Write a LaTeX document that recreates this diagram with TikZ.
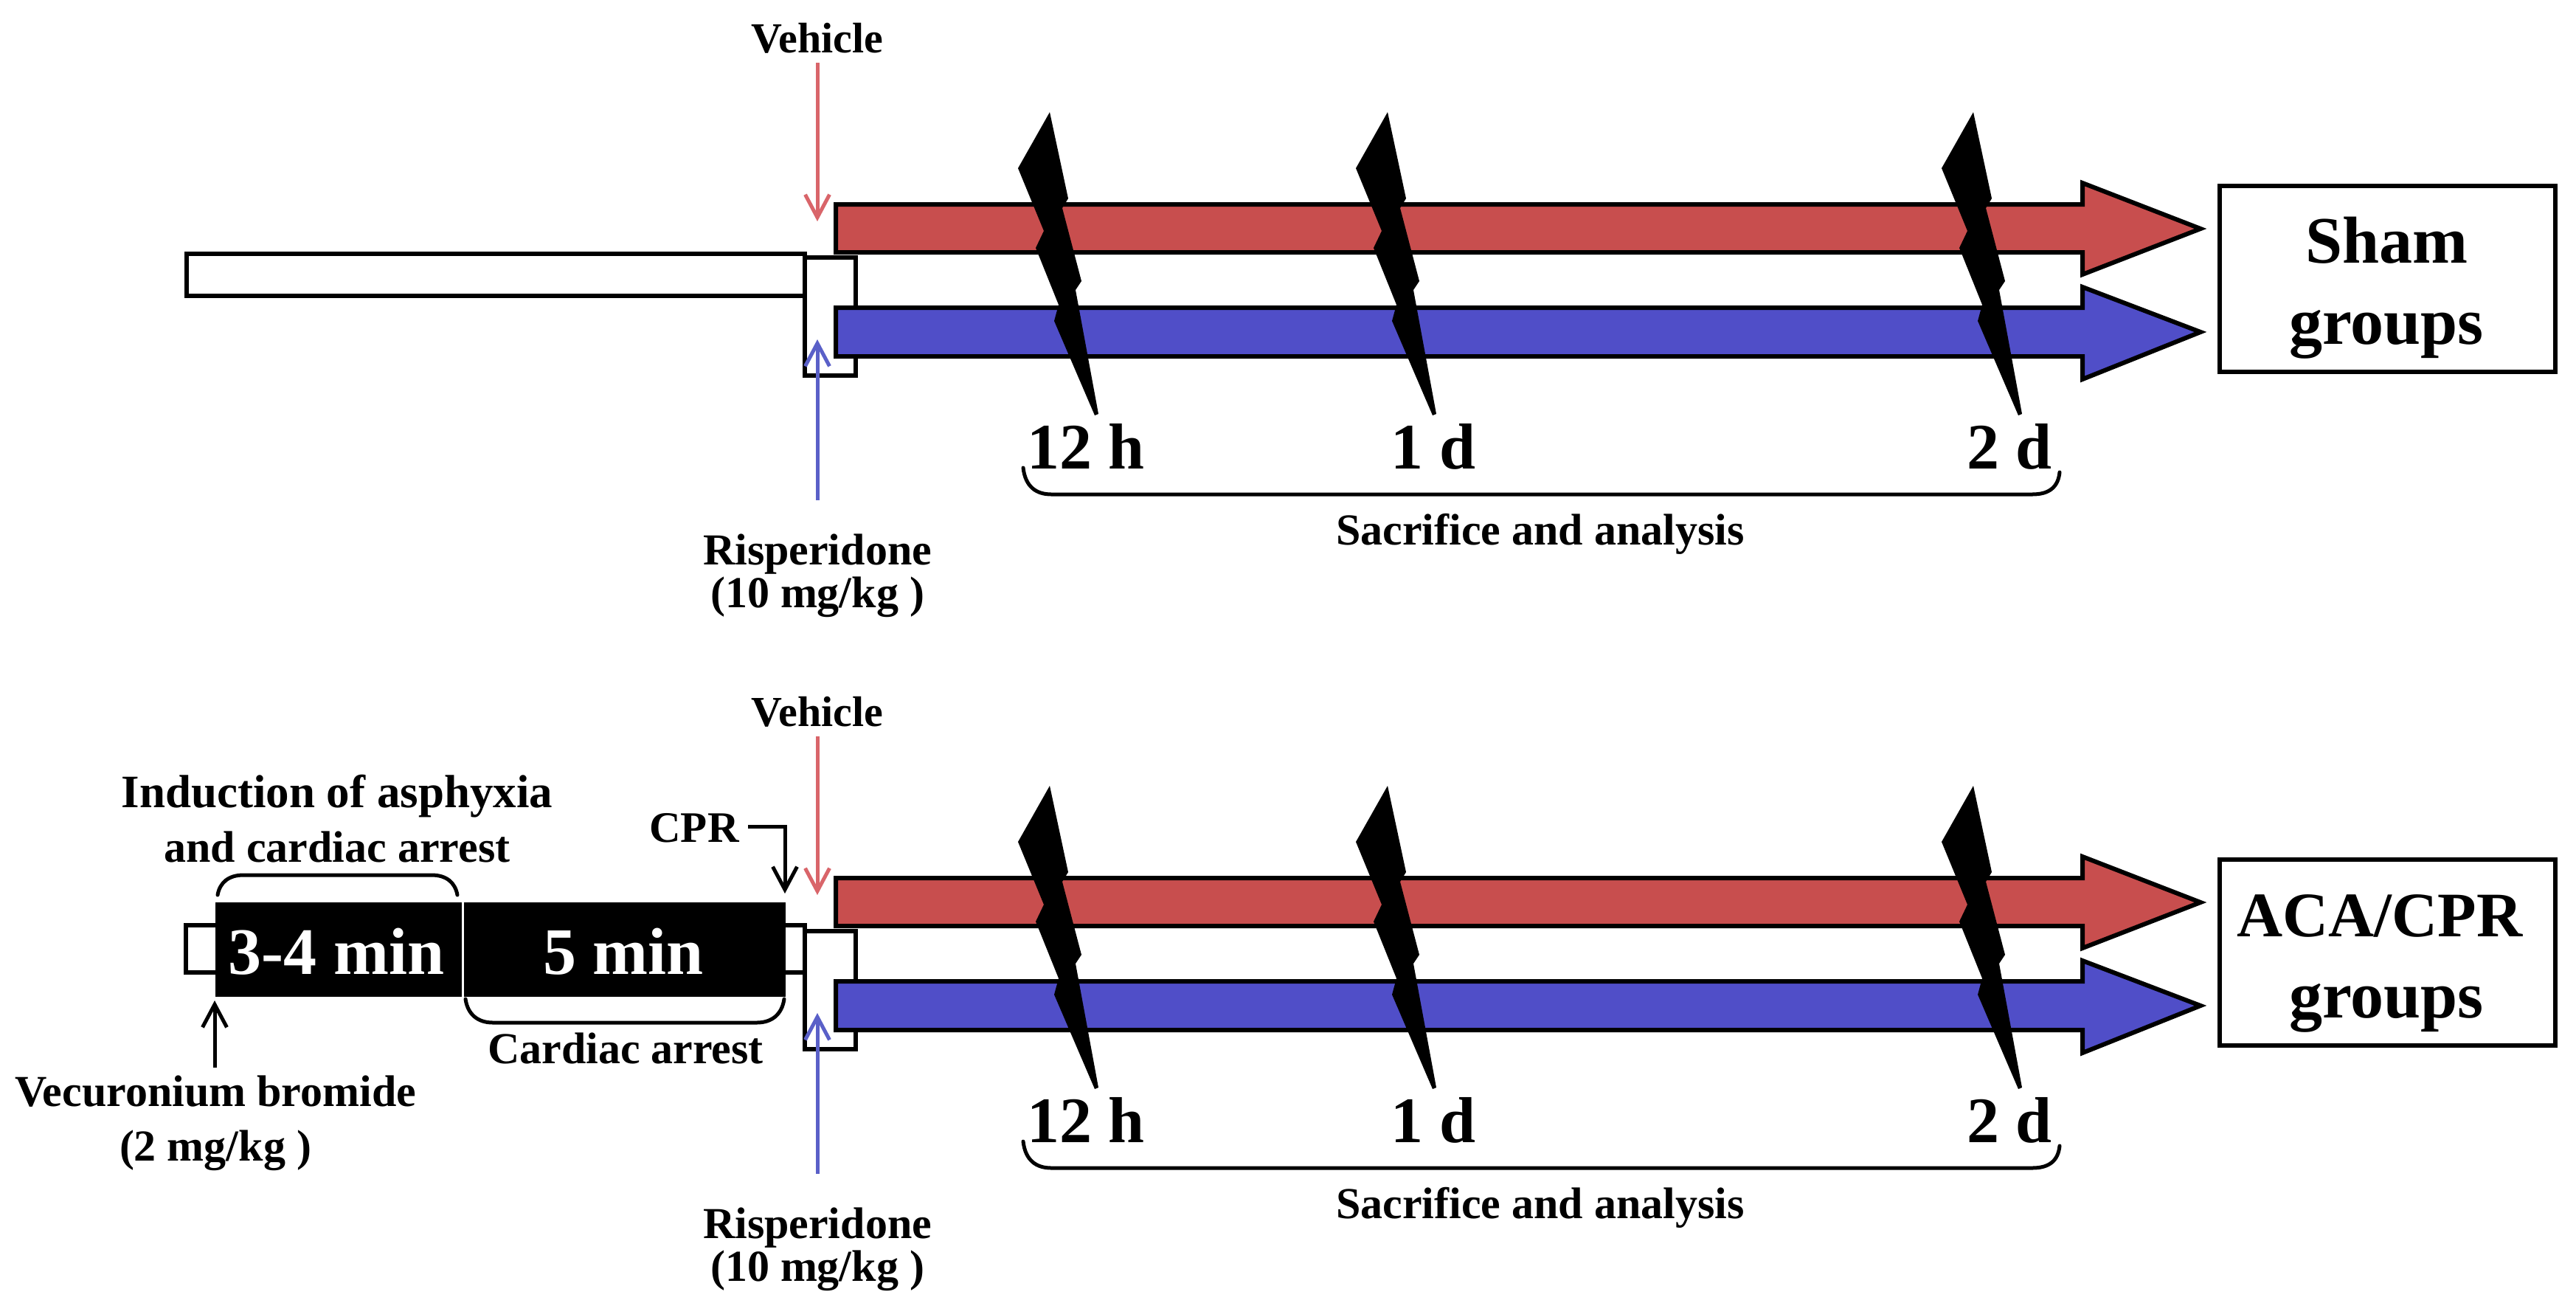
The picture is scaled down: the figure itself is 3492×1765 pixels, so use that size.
\documentclass[tikz,border=0pt]{standalone}
\usepackage{fontspec}
\setmainfont{Liberation Serif}
\usetikzlibrary{arrows.meta}
\definecolor{barred}{HTML}{C84E4E}
\definecolor{barblue}{HTML}{504EC8}
\definecolor{linered}{HTML}{D9656A}
\definecolor{lineblue}{HTML}{5A60C8}
\tikzset{
  lbl/.style={anchor=base,inner sep=0pt,font=\fontsize{#1}{#1}\selectfont\bfseries},
  lbl/.default=60,
  wbox/.style={draw=black,fill=white,line width=6pt,line join=miter},
  blackbox/.style={draw=none,fill=black,inner sep=0pt},
  groupbox/.style={draw=black,fill=white,line width=6pt,minimum width=455pt,minimum height=252pt,inner sep=0pt},
  bararrow/.style={draw=black,line width=6pt,line join=miter,miter limit=10},
  ptr/.style={line width=5pt,-{Straight Barb[length=31pt,width=33pt,line width=5pt]}},
  span/.style={draw=black,line width=5pt,line cap=round},
  bolt/.style={fill=black,draw=none}
}
\newcommand{\boltat}[2]{%
  \fill[bolt,shift={(#1,#2)}] (0,0) -- (25,117) -- (17,130) -- (43,229) -- (35,241) -- (66,409) -- (61,411) -- (6,283) -- (12,261) -- (-19,184) -- (-8,161) -- (-43,76) -- cycle;}
\newcommand{\commonpanel}{%
  % junction box
  \path[wbox] (1091,349) rectangle (1160,509);
  % coloured arrows
  \path[bararrow,fill=barred] (1133,277) -- (2823,277) -- (2823,248) -- (2983,310) -- (2823,372) -- (2823,342) -- (1133,342) -- cycle;
  \path[bararrow,fill=barblue] (1133,417) -- (2823,417) -- (2823,389) -- (2983,450) -- (2823,514) -- (2823,483) -- (1133,483) -- cycle;
  \boltat{1423}{152}\boltat{1881}{152}\boltat{2675}{152}
  % time labels
  \node[lbl=88] (t12) at (1472,635) {12 h};
  \node[lbl=88] (t1) at (1943,635) {1 d};
  \node[lbl=88] (t2) at (2724,635) {2 d};
  \coordinate (bl) at (1387,634);
  \coordinate (br) at (2792,640);
  \draw[span] (bl) .. controls (1390,660) and (1405,670) .. (1425,670) -- (2755,670) .. controls (2778,670) and (2790,660) .. (br);
  \node[lbl=60] (sac) at (2088,738) {Sacrifice and analysis};
  % treatments
  \node[lbl=58] (veh) at (1108,71) {Vehicle};
  \coordinate (vehtip) at (1108,300);
  \coordinate (vehtail) at (1108,85);
  \draw[ptr,linered] (vehtail) -- (vehtip);
  \node[lbl=60] (ris) at (1108,765) {Risperidone};
  \node[lbl=60] (dose) at (1108,823) {(10 mg/kg )};
  \coordinate (ristip) at (1108,460);
  \coordinate (ristail) at (1108,678);
  \draw[ptr,lineblue] (ristail) -- (ristip);
}
\begin{document}
\begin{tikzpicture}[x=1pt,y=-1pt]
\useasboundingbox[fill=white] (0,0) rectangle (3492,1765);
% ---- upper panel
\begin{scope}[name prefix=a-]
  \path[wbox] (253,344) rectangle (1091,401);
  \commonpanel
  \node[groupbox] (g) at (3236.5,378) {};
  \node[lbl=90] (g1) at (3235,356) {Sham};
  \node[lbl=90] (g2) at (3235,466) {groups};
\end{scope}
% ---- lower panel
\begin{scope}[name prefix=b-,shift={(0,913)}]
  \path[wbox] (252,341) rectangle (320,405);
  \path[wbox] (1040,341) rectangle (1091,405);
  \commonpanel
  \node[groupbox] (g) at (3236.5,378) {};
  \node[lbl=86] (g1) at (3226,356) {ACA/CPR};
  \node[lbl=90] (g2) at (3235,466) {groups};
\end{scope}
\node[blackbox,minimum width=334pt,minimum height=128pt] (k1) at (459,1287) {};
\node[blackbox,minimum width=436pt,minimum height=128pt] (k2) at (847,1287) {};
\node[lbl=90,text=white] (k1t) at (456,1320) {3-4 min};
\node[lbl=90,text=white] (k2t) at (845,1320) {5 min};
\coordinate (ul) at (295,1213);
\coordinate (ur) at (620,1213);
\draw[span] (ul) .. controls (298,1196) and (310,1186) .. (330,1186) -- (585,1186) .. controls (605,1186) and (617,1196) .. (ur);
\coordinate (ll) at (631,1354);
\coordinate (lr) at (1063,1354);
\draw[span] (ll) .. controls (634,1375) and (648,1386) .. (668,1386) -- (1026,1386) .. controls (1046,1386) and (1060,1375) .. (lr);
\node[lbl=63] (ind1) at (457,1094) {Induction of asphyxia};
\node[lbl=60] (ind2) at (457,1168) {and cardiac arrest};
\node[lbl=60] (ca) at (848,1441) {Cardiac arrest};
\node[lbl=59] (cpr) at (941,1141) {CPR};
\coordinate (cprtail) at (1014,1120);
\coordinate (cprtip) at (1064,1211);
\draw[ptr,black,line join=miter] (cprtail) -| (cprtip);
\coordinate (vectail) at (291,1447);
\coordinate (vectip) at (291,1356);
\draw[ptr,black] (vectail) -- (vectip);
\node[lbl=60] (vec) at (292,1499) {Vecuronium bromide};
\node[lbl=60] (vecd) at (292,1573) {(2 mg/kg )};
\end{tikzpicture}
\end{document}
